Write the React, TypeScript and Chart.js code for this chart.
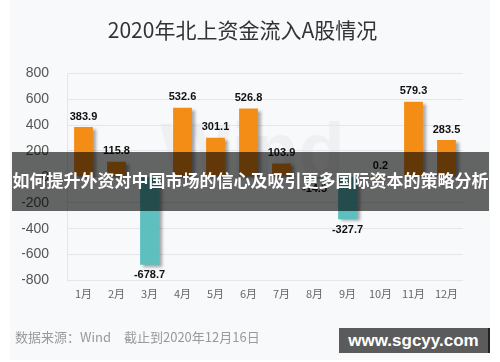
import React, { useEffect, useRef } from 'react';
import { Chart, registerables } from 'chart.js';

Chart.register(...registerables);

const months = ['1月', '2月', '3月', '4月', '5月', '6月', '7月', '8月', '9月', '10月', '11月', '12月'];
const netInflow = [383.9, 115.8, -678.7, 532.6, 301.1, 526.8, 103.9, -14.5, -327.7, 0.2, 579.3, 283.5];
const yTicks = [800, 600, 400, 200, 0, -200, -400, -600, -800];
const chartTitle = '2020年北上资金流入A股情况';
const bannerText = '如何提升外资对中国市场的信心及吸引更多国际资本的策略分析';
const sourceText = '数据来源：Wind　截止到2020年12月16日';
const siteText = 'www.sgcyy.com';
const bgWatermark = 'Wind';

const POS_COLOR = '#f48d15';
const NEG_COLOR = '#5ebfbf';
const SANS = "'Liberation Sans', Arial, 'Noto Sans CJK SC', sans-serif";
const CJK = "'Noto Sans CJK SC', 'Liberation Sans', sans-serif";

const shadowPlugin = {
  id: 'barShadow',
  beforeDatasetDraw(chart: any) {
    const ctx = chart.ctx;
    ctx.save();
    ctx.shadowColor = 'rgba(0,0,0,0.35)';
    ctx.shadowBlur = 3;
    ctx.shadowOffsetX = 3;
    ctx.shadowOffsetY = 2;
  },
  afterDatasetDraw(chart: any) {
    chart.ctx.restore();
  },
};

const labelPlugin = {
  id: 'barLabels',
  afterDatasetsDraw(chart: any) {
    const ctx = chart.ctx;
    const meta = chart.getDatasetMeta(0);
    const data = chart.data.datasets[0].data as number[];
    ctx.save();
    ctx.font = `bold 11px ${SANS}`;
    ctx.fillStyle = '#111';
    ctx.textAlign = 'center';
    meta.data.forEach((bar: any, i: number) => {
      const v = data[i];
      const text = v.toFixed(1);
      if (v >= 0) {
        ctx.textBaseline = 'bottom';
        ctx.fillText(text, bar.x, bar.y - 5);
      } else {
        ctx.textBaseline = 'top';
        ctx.fillText(text, bar.x, bar.y + 5);
      }
    });
    ctx.restore();
  },
};

export default function App() {
  const canvasRef = useRef<HTMLCanvasElement | null>(null);

  useEffect(() => {
    if (!canvasRef.current) return;
    const chart = new Chart(canvasRef.current, {
      type: 'bar',
      data: {
        labels: months,
        datasets: [
          {
            data: netInflow,
            backgroundColor: netInflow.map((v) => (v >= 0 ? POS_COLOR : NEG_COLOR)),
            barPercentage: 0.57,
            categoryPercentage: 1,
            borderWidth: 0,
          },
        ],
      },
      options: {
        animation: false,
        responsive: false,
        maintainAspectRatio: false,
        devicePixelRatio: 1,
        layout: { padding: { left: 22, right: 37, top: 0, bottom: 59.5 } },
        plugins: {
          legend: { display: false },
          tooltip: { enabled: false },
          title: {
            display: true,
            text: chartTitle,
            color: '#333',
            font: { family: CJK, size: 21, weight: 'normal' },
            padding: { top: 17, bottom: 31 },
          },
        },
        scales: {
          x: {
            grid: { display: false, drawTicks: false },
            border: { display: false },
            afterFit: (scale: any) => {
              scale.height = 22;
            },
            ticks: {
              color: '#666',
              font: { family: CJK, size: 11 },
              padding: 7,
              maxRotation: 0,
              autoSkip: false,
            },
          },
          y: {
            min: -800,
            max: 800,
            afterBuildTicks: (scale: any) => {
              scale.ticks = yTicks.map((v) => ({ value: v }));
            },
            afterFit: (scale: any) => {
              scale.width = 45;
            },
            grid: { color: '#e3e6ea', lineWidth: 1, drawTicks: false },
            border: { display: true, color: '#e3e6ea' },
            ticks: {
              color: '#555',
              font: { family: SANS, size: 14 },
              padding: 18,
            },
          },
        },
      },
      plugins: [shadowPlugin, labelPlugin],
    });
    return () => chart.destroy();
  }, []);

  return (
    <div style={{ position: 'absolute', left: 0, top: 0, width: 500, height: 362, overflow: 'hidden', background: '#fff' }}>
      <div style={{ position: 'absolute', left: 10, top: 0, width: 480, height: 360, background: '#f8f9fb' }} />
      <div
        style={{
          position: 'absolute',
          left: 160,
          top: 112,
          fontFamily: SANS,
          fontWeight: 'bold',
          fontSize: 76,
          color: 'rgba(0,0,0,0.035)',
          lineHeight: 1,
          whiteSpace: 'nowrap',
        }}
      >
        {bgWatermark}
      </div>
      <canvas ref={canvasRef} width={500} height={362} style={{ position: 'absolute', left: 0, top: 0, width: 500, height: 362 }} />
      <div
        style={{
          position: 'absolute',
          left: 12,
          top: 152,
          width: 477,
          height: 59,
          background: 'rgba(0,0,0,0.6)',
          color: '#fff',
          fontFamily: CJK,
          fontWeight: 'bold',
          fontSize: 17,
          display: 'flex',
          alignItems: 'center',
          justifyContent: 'center',
          whiteSpace: 'nowrap',
          paddingBottom: 4,
          boxSizing: 'border-box',
        }}
      >
        {bannerText}
      </div>
      <div
        style={{
          position: 'absolute',
          left: 15,
          top: 328,
          fontFamily: CJK,
          fontSize: 13,
          color: '#9a9a9a',
          lineHeight: '18px',
          whiteSpace: 'nowrap',
        }}
      >
        {sourceText}
      </div>
      <div
        style={{
          position: 'absolute',
          left: 339,
          top: 328,
          width: 151,
          height: 25,
          background: '#5b5b5b',
          borderRight: '2px solid #222',
          boxSizing: 'border-box',
          color: '#fff',
          fontFamily: SANS,
          fontWeight: 'bold',
          fontSize: 17,
          display: 'flex',
          alignItems: 'center',
          justifyContent: 'center',
          whiteSpace: 'nowrap',
        }}
      >
        {siteText}
      </div>
    </div>
  );
}
